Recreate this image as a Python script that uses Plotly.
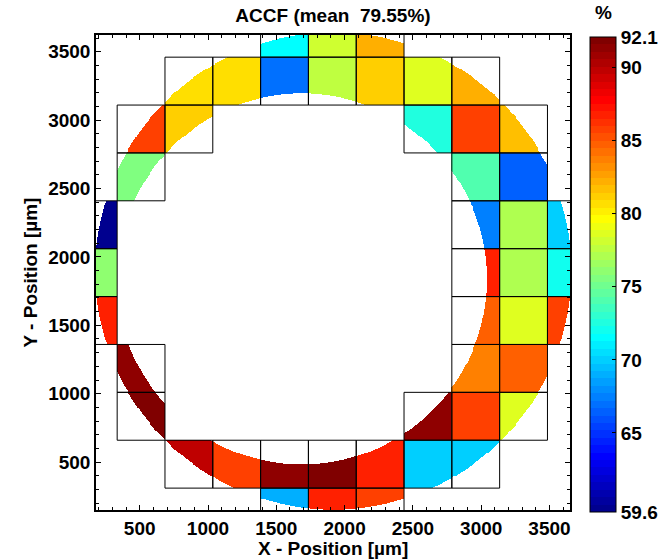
import numpy as np
import plotly.graph_objects as go

# ---------------- data ----------------
# grid cells: centre x / centre y (µm) and ACCF value (%)
cell_x = [1560, 1910, 2260,
          860, 1210, 1560, 1910, 2260, 2610, 2960,
          510, 860, 2610, 2960, 3310,
          510, 2960, 3310,
          160, 2960, 3310, 3660,
          160, 2960, 3310, 3660,
          160, 2960, 3310, 3660,
          510, 2960, 3310,
          510, 2610, 2960, 3310,
          860, 1210, 1560, 1910, 2260, 2610, 2960,
          1560, 1910, 2260]
cell_y = [3635, 3635, 3635,
          3285, 3285, 3285, 3285, 3285, 3285, 3285,
          2935, 2935, 2935, 2935, 2935,
          2585, 2585, 2585,
          2235, 2235, 2235, 2235,
          1885, 1885, 1885, 1885,
          1535, 1535, 1535, 1535,
          1185, 1185, 1185,
          835, 835, 835, 835,
          485, 485, 485, 485, 485, 485, 485,
          135, 135, 135]
accf = [71.3, 77.9, 82.3,
        80.6, 80.6, 67.2, 77.4, 81.1, 78.8, 82.4,
        86.0, 81.1, 72.3, 85.5, 81.7,
        75.4, 74.3, 66.7,
        59.6, 67.7, 76.9, 69.8,
        75.9, 87.0, 76.9, 72.0,
        87.0, 84.5, 78.4, 86.0,
        91.1, 83.6, 84.7,
        92.1, 91.1, 85.5, 78.4,
        89.7, 86.0, 91.3, 91.7, 87.0, 69.8, 69.8,
        69.0, 87.0, 86.0]
cbar_ticks = [59.6, 65, 70, 75, 80, 85, 90, 92.1]
cbar_labels = ["59.6", "65", "70", "75", "80", "85", "90", "92.1"]
title_text = "ACCF (mean\u00a0 79.55%)"

# ---------------- geometry / style ----------------
CELL = 350.0
XR = [180, 3650]
YR = [150, 3622]
ZMIN, ZMAX = 59.6, 92.1
OUTER = (1918.0, 1897.0, 1745.0)   # measured area: outer edge
INNER = (1688.0, 1838.0, 1355.0)   # inner edge of the ring
FONT = "Liberation Sans, Arial, sans-serif"
W, H = 668, 559
L, R, T, B = 96, 98, 35, 49
PW, PH = W - L - R, H - T - B


def jet(m=64):
    n = int(np.ceil(m / 4))
    u = np.concatenate([np.arange(1, n + 1) / n, np.ones(n - 1), np.arange(n, 0, -1) / n])
    g = int(np.ceil(n / 2)) - (1 if m % 4 == 1 else 0) + np.arange(1, len(u) + 1)
    r = g + n
    b = g - n
    cmap = np.zeros((m, 3))
    for ch, idx in ((0, r), (1, g), (2, b)):
        for k, val in zip(idx, u):
            if 1 <= k <= m:
                cmap[k - 1, ch] = val
    return cmap


cmap = jet(64)
scale = []
for i, c in enumerate(cmap):
    col = "rgb(%d,%d,%d)" % tuple(np.round(c * 255).astype(int))
    scale.append([i / 64, col])
    scale.append([(i + 1) / 64, col])

# lookup table of cell values
x0 = min(cell_x) - CELL / 2
y0 = min(cell_y) - CELL / 2
ncol = int(round((max(cell_x) - min(cell_x)) / CELL)) + 1
nrow = int(round((max(cell_y) - min(cell_y)) / CELL)) + 1
table = np.full((nrow, ncol), np.nan)
for cx, cy, v in zip(cell_x, cell_y, accf):
    table[int(round((cy - min(cell_y)) / CELL)), int(round((cx - min(cell_x)) / CELL))] = v

step = 7.0
gx = np.arange(XR[0] + step / 2, XR[1], step)
gy = np.arange(YR[0] + step / 2, YR[1], step)
GX, GY = np.meshgrid(gx, gy)
ci = np.clip(np.floor((GX - x0) / CELL).astype(int), 0, ncol - 1)
ri = np.clip(np.floor((GY - y0) / CELL).astype(int), 0, nrow - 1)
Z = table[ri, ci]
ring = (np.hypot(GX - OUTER[0], GY - OUTER[1]) <= OUTER[2]) & \
       (np.hypot(GX - INNER[0], GY - INNER[1]) >= INNER[2])
Z = np.where(ring, Z, np.nan).astype(np.float32)

# cell outlines
ox, oy = [], []
h = CELL / 2
for cx, cy in zip(cell_x, cell_y):
    ox += [cx - h, cx + h, cx + h, cx - h, cx - h, None]
    oy += [cy - h, cy - h, cy + h, cy + h, cy - h, None]

bold = dict(family=FONT, size=19, color="black", weight="bold")


def px(xp):
    return (xp - L) / PW


def py(yp):
    return (H - B - yp) / PH


fig = go.Figure()
fig.add_trace(go.Heatmap(
    x=gx, y=gy, z=Z, zmin=ZMIN, zmax=ZMAX, colorscale=scale, zsmooth=False,
    hoverinfo="skip",
    colorbar=dict(
        thickness=26, thicknessmode="pixels", len=475, lenmode="pixels",
        x=px(590), xanchor="left",
        y=py(274.4), yanchor="middle",
        xpad=0, ypad=0, outlinewidth=1, outlinecolor="black",
        tickmode="array", tickvals=cbar_ticks, ticktext=cbar_labels,
        ticks="inside", ticklen=4, tickcolor="black",
        tickfont=bold,
    ),
))
fig.add_trace(go.Scatter(x=ox, y=oy, mode="lines", line=dict(color="black", width=1),
                         hoverinfo="skip", showlegend=False))

axis_common = dict(
    showgrid=False, zeroline=False, showline=True, linecolor="black", linewidth=1.5,
    mirror="allticks", ticks="inside", ticklen=5, tickwidth=1, tickcolor="black",
    tickfont=bold, tickmode="linear", tick0=0, dtick=500,
    minor=dict(ticks="inside", ticklen=3, tickwidth=1, tickcolor="black", dtick=100, showgrid=False),
)
fig.update_xaxes(range=XR, **axis_common)
fig.update_yaxes(range=YR, **axis_common)

fig.update_layout(
    width=W, height=H,
    margin=dict(l=L, r=R, t=T, b=B, autoexpand=False),
    plot_bgcolor="white", paper_bgcolor="white",
    showlegend=False,
    title=dict(text=title_text, x=0.5, xref="paper", xanchor="center",
               y=1 - 15 / H, yref="container", yanchor="middle", font=bold),
    annotations=[
        dict(text="X - Position [µm]", xref="paper", yref="paper", x=0.5, y=py(548),
             xanchor="center", yanchor="middle", showarrow=False, font=bold),
        dict(text="Y - Position [µm]", xref="paper", yref="paper", x=px(30), y=0.5,
             xanchor="center", yanchor="middle", showarrow=False, textangle=-90, font=bold),
        dict(text="%", xref="paper", yref="paper", x=px(603), y=py(13),
             xanchor="center", yanchor="middle", showarrow=False, font=bold),
    ],
)

fig.write_html("out.html", config={"displayModeBar": False},
               post_script="document.body.style.margin='0px';")
